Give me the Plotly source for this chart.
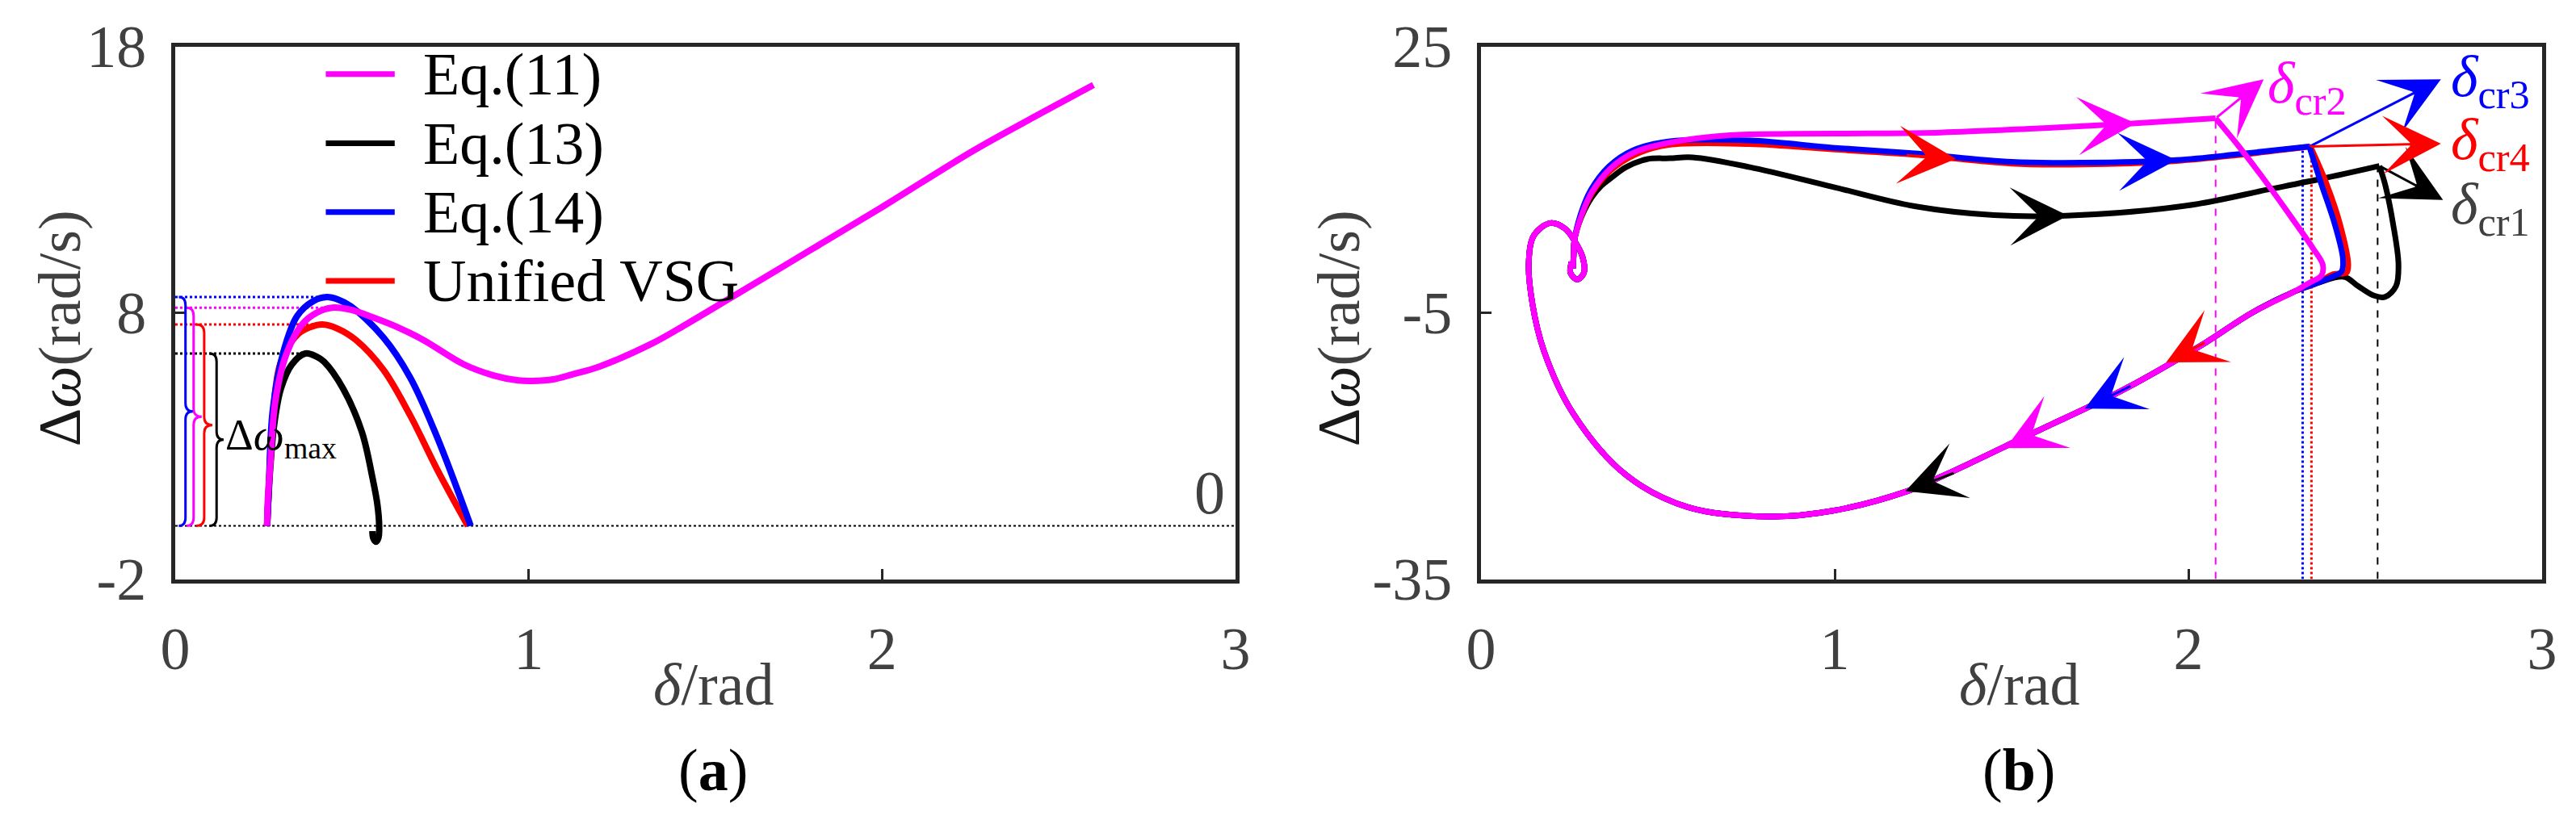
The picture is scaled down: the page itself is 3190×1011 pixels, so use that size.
import plotly.graph_objects as go

# ---------------- data ----------------
series_names = ["Eq.(11)", "Eq.(13)", "Eq.(14)", "Unified VSG"]
series_colors = ["#FF00FF", "#000000", "#0000FF", "#FF0000"]

# panel (a): delta (rad) vs delta-omega (rad/s)
a_eq11_d = [0.26, 0.262, 0.269, 0.284, 0.315, 0.36, 0.40, 0.444, 0.50, 0.558, 0.63, 0.703, 0.817,
            0.90, 0.97, 1.01, 1.07, 1.122, 1.2, 1.35, 1.45, 1.583, 1.793, 2.004, 2.26, 2.458, 2.598]
a_eq11_w = [0.0, 1.0, 2.32, 4.75, 6.47, 7.58, 8.0, 8.19, 8.1, 7.83, 7.45, 6.97, 6.06,
            5.65, 5.46, 5.44, 5.5, 5.68, 5.98, 6.85, 7.6, 8.65, 10.32, 12.0, 14.1, 15.55, 16.55]
a_eq13_d = [0.26, 0.268, 0.28, 0.299, 0.33, 0.368, 0.40, 0.421, 0.475, 0.528, 0.558, 0.572,
            0.577, 0.575, 0.568, 0.560, 0.558]
a_eq13_w = [0.0, 2.0, 3.8, 5.15, 6.06, 6.47, 6.35, 6.16, 5.15, 3.53, 1.81, 0.8,
            0.0, -0.45, -0.6, -0.45, -0.2]
a_eq14_d = [0.26, 0.265, 0.276, 0.307, 0.345, 0.391, 0.429, 0.46, 0.497, 0.589, 0.665, 0.741, 0.836]
a_eq14_w = [0.0, 1.5, 4.34, 6.57, 7.88, 8.44, 8.59, 8.5, 8.24, 7.07, 5.56, 3.33, 0.0]
a_vsg_d = [0.26, 0.265, 0.275, 0.299, 0.345, 0.38, 0.417, 0.46, 0.512, 0.589, 0.665, 0.741, 0.828]
a_vsg_w = [0.0, 1.5, 3.8, 6.16, 7.17, 7.45, 7.56, 7.4, 6.97, 5.86, 4.14, 2.12, 0.0]

# panel (b): outgoing part of each trajectory (up to the return line)
b_eq11_d = [0.26, 0.262, 0.264, 0.283, 0.313, 0.367, 0.435, 0.534, 0.703, 0.878, 1.10, 1.30, 1.54,
            1.851, 2.077, 2.146, 2.224, 2.30, 2.353, 2.38, 2.376, 2.345]
b_eq11_w = [0.0, 1.5, 3.13, 5.85, 8.57, 11.3, 13.1, 14.17, 15.0, 15.15, 15.2, 15.3, 15.7,
            16.34, 16.9, 13.57, 9.48, 5.25, 2.22, 0.41, -0.8, -1.56]
b_eq13_d = [0.26, 0.262, 0.264, 0.283, 0.313, 0.34, 0.365, 0.41, 0.469, 0.534, 0.598, 0.76, 0.993,
            1.226, 1.45, 1.655, 1.995, 2.224, 2.376, 2.54, 2.556, 2.579, 2.594, 2.587, 2.556,
            2.525, 2.48, 2.44, 2.361]
b_eq13_w = [0.0, 1.5, 3.13, 5.7, 8.0, 9.3, 10.1, 11.4, 12.3, 12.4, 12.5, 11.4, 9.2,
            7.0, 6.0, 5.94, 7.06, 8.87, 10.09, 11.54, 9.48, 4.95, 0.41, -2.0, -3.22,
            -3.07, -2.0, -0.95, -1.7]
b_eq14_d = [0.26, 0.262, 0.264, 0.281, 0.31, 0.362, 0.43, 0.53, 0.76, 0.993, 1.226, 1.5, 1.7,
            1.966, 2.15, 2.342, 2.376, 2.414, 2.437, 2.433, 2.406, 2.361]
b_eq14_w = [0.0, 1.5, 3.13, 6.0, 8.8, 11.5, 13.3, 14.3, 14.4, 13.6, 12.95, 12.0, 11.9,
            12.2, 12.9, 13.72, 9.48, 4.95, 1.02, -0.35, -0.95, -1.7]
b_vsg_d = [0.26, 0.262, 0.264, 0.283, 0.313, 0.366, 0.435, 0.53, 0.76, 0.993, 1.226, 1.5, 1.7,
           1.966, 2.15, 2.345, 2.391, 2.429, 2.452, 2.447, 2.41, 2.361]
b_vsg_w = [0.0, 1.5, 3.13, 5.8, 8.4, 11.0, 12.8, 13.9, 14.0, 13.4, 12.8, 11.8, 11.7,
           12.1, 12.8, 13.72, 9.48, 4.95, 0.41, -0.5, -0.65, -1.7]
# shared return path of all four trajectories
b_ret_d = [2.30, 2.178, 2.047, 1.805, 1.563, 1.31, 1.205, 0.995, 0.82, 0.585, 0.411, 0.26, 0.178,
           0.146, 0.135, 0.15, 0.196, 0.237, 0.264, 0.287, 0.291, 0.272, 0.253, 0.256]
b_ret_w = [-2.6, -5.04, -8.4, -13.9, -18.5, -23.3, -25.1, -27.3, -27.96, -26.9, -23.3, -16.3, -9.3,
           -4.13, 0.71, 3.74, 5.1, 4.5, 3.13, 1.3, -0.5, -1.25, -0.5, 0.7]

# critical angles (cr1..cr4) and their corner points
cr_names = ["cr1", "cr2", "cr3", "cr4"]
cr_colors = ["#000000", "#FF00FF", "#0000FF", "#FF0000"]
cr_label_colors = ["#404040", "#FF00FF", "#0000FF", "#FF0000"]
cr_delta = [2.535, 2.077, 2.323, 2.348]
cr_corner_d = [2.54, 2.077, 2.342, 2.342]
cr_corner_w = [11.54, 16.9, 13.72, 13.72]
cr_tip_d = [2.72, 2.213, 2.714, 2.714]
cr_tip_w = [7.7, 21.3, 21.3, 14.05]
cr_label_d = [2.737, 2.219, 2.737, 2.737]
cr_label_w = [6.8, 20.4, 21.1, 14.0]

# direction arrows on the trajectories: (tail_d, tail_w, tip_d, tip_w, colour)
arrows_b = [
    (1.70, 16.05, 1.851, 16.34, "#FF00FF"),
    (1.80, 12.0, 1.966, 12.2, "#0000FF"),
    (1.20, 12.75, 1.343, 12.35, "#FF0000"),
    (1.50, 5.85, 1.66, 5.94, "#000000"),
    (2.05, -8.3, 1.937, -10.6, "#FF0000"),
    (1.84, -13.2, 1.707, -15.8, "#0000FF"),
    (1.60, -17.9, 1.483, -20.25, "#FF00FF"),
    (1.34, -23.0, 1.20, -25.1, "#000000"),
]

x_ticks = [0, 1, 2, 3]
a_y_ticks = [-2, 8, 18]
a_y_text = ["-2", "8", "18"]
b_y_ticks = [-35, -5, 25]
b_y_text = ["-35", "-5", "25"]

# ---------------- figure ----------------
FONT = "Liberation Serif"
GRAY = "#404040"
AX = "#262626"

fig = go.Figure()

a_series = [(a_eq11_d, a_eq11_w), (a_eq13_d, a_eq13_w), (a_eq14_d, a_eq14_w), (a_vsg_d, a_vsg_w)]
b_series = [(b_eq11_d, b_eq11_w), (b_eq13_d, b_eq13_w), (b_eq14_d, b_eq14_w), (b_vsg_d, b_vsg_w)]


def first_peak(w):
    # index of the first local maximum (the swing peak)
    for i in range(1, len(w) - 1):
        if w[i] >= w[i + 1] and w[i] >= w[i - 1]:
            return i
    return w.index(max(w))


peaks = []
for d, w in a_series:
    i = first_peak(w)
    peaks.append((d[i], w[i]))

# peak marker lines + zero line in panel (a)
fig.add_trace(go.Scatter(x=[0, 3], y=[0, 0], mode="lines", xaxis="x", yaxis="y",
                         line=dict(color="black", width=2, dash="dot"), showlegend=False))
for (pd_, pw), c in zip(peaks, series_colors):
    fig.add_trace(go.Scatter(x=[0, pd_], y=[pw, pw], mode="lines", xaxis="x", yaxis="y",
                             line=dict(color=c, width=3, dash="dot"), showlegend=False))

draw_order = [1, 3, 2, 0]  # black, red, blue, magenta on top
for k in draw_order:
    d, w = a_series[k]
    fig.add_trace(go.Scatter(x=d, y=w, mode="lines", xaxis="x", yaxis="y", name=series_names[k],
                             line=dict(color=series_colors[k], width=8, shape="spline", smoothing=1.0),
                             showlegend=False))

# vertical critical-angle lines in panel (b)
for k in range(4):
    fig.add_trace(go.Scatter(x=[cr_delta[k], cr_delta[k]], y=[-35, cr_corner_w[k]], mode="lines",
                             xaxis="x2", yaxis="y2",
                             line=dict(color=cr_colors[k], width=3 if k in (2, 3) else 2,
                                       dash="dot" if k in (2, 3) else "dash"),
                             showlegend=False))

# trajectories: split at the critical corner so it stays sharp
for k in draw_order:
    d, w = b_series[k]
    full_d = d + b_ret_d
    full_w = w + b_ret_w
    c = max((i for i in range(len(d)) if d[i] > 1.9), key=lambda i: w[i])
    for seg in (slice(0, c + 1), slice(c, None)):
        fig.add_trace(go.Scatter(x=full_d[seg], y=full_w[seg], mode="lines", xaxis="x2", yaxis="y2",
                                 name=series_names[k],
                                 line=dict(color=series_colors[k], width=7, shape="spline", smoothing=1.0),
                                 showlegend=False))

annotations = []
shapes = []

# legend (drawn by hand, panel a)
leg_y = [0.948, 0.818, 0.689, 0.56]
for name, c, yy in zip(series_names, series_colors, leg_y):
    shapes.append(dict(type="line", xref="x domain", yref="y domain", x0=0.142, x1=0.207, y0=yy, y1=yy,
                       line=dict(color=c, width=7)))
    annotations.append(dict(xref="x domain", yref="y domain", x=0.232, y=yy, text=name, showarrow=False,
                            xanchor="left", yanchor="middle", font=dict(family=FONT, size=74, color="black")))


# curly braces marking delta-omega max
def brace(xl, xs, xt, top, h=0.3):
    ym = top / 2
    return (f"M{xl},{top} Q{xs},{top} {xs},{top - h} L{xs},{ym + h} Q{xs},{ym} {xt},{ym} "
            f"Q{xs},{ym} {xs},{ym - h} L{xs},{h} Q{xs},0 {xl},0")


brace_x = {0: (0.032, 0.052, 0.075), 1: (0.097, 0.117, 0.137), 2: (0.01, 0.029, 0.05), 3: (0.059, 0.082, 0.105)}
for k, (pd_, pw) in enumerate(peaks):
    xl, xs, xt = brace_x[k]
    shapes.append(dict(type="path", xref="x", yref="y", path=brace(xl, xs, xt, pw),
                       line=dict(color=series_colors[k], width=3)))

annotations.append(dict(xref="x", yref="y", x=0.138, y=3.3, text="Δ<i>ω</i><sub>max</sub>", showarrow=False,
                        xanchor="left", yanchor="middle", font=dict(family=FONT, size=54, color="black")))
annotations.append(dict(xref="x", yref="y", x=2.975, y=1.25, text="0", showarrow=False,
                        xanchor="right", yanchor="middle", font=dict(family=FONT, size=76, color=GRAY)))

# panel (b) direction arrows
for td, tw, hd, hw, c in arrows_b:
    annotations.append(dict(xref="x2", yref="y2", axref="x2", ayref="y2", x=hd, y=hw, ax=td, ay=tw,
                            text="", showarrow=True, arrowhead=3, arrowsize=4, arrowwidth=3,
                            arrowcolor=c, standoff=0))
# critical-angle pointer arrows and labels
for k in range(4):
    annotations.append(dict(xref="x2", yref="y2", axref="x2", ayref="y2", x=cr_tip_d[k], y=cr_tip_w[k],
                            ax=cr_corner_d[k], ay=cr_corner_w[k], text="", showarrow=True,
                            arrowhead=3, arrowsize=4, arrowwidth=3, arrowcolor=cr_colors[k], standoff=0))
    annotations.append(dict(xref="x2", yref="y2", x=cr_label_d[k], y=cr_label_w[k],
                            text=f"<i>δ</i><sub>{cr_names[k]}</sub>", showarrow=False,
                            xanchor="left", yanchor="middle",
                            font=dict(family=FONT, size=72, color=cr_label_colors[k])))

# axis titles and panel labels
ytitle = '<span style="color:#1a1a1a">Δ<i>ω</i></span>(rad/s)'
for xp in (66 / 3190, 1650 / 3190):
    annotations.append(dict(xref="paper", yref="paper", x=xp, y=0.605, text=ytitle, textangle=-90,
                            showarrow=False, xanchor="center", yanchor="middle",
                            font=dict(family=FONT, size=74, color=GRAY)))
for xp, lab in ((875 / 3190, "a"), (2492 / 3190, "b")):
    annotations.append(dict(xref="paper", yref="paper", x=xp, y=0.169, text="<i>δ</i>/rad", showarrow=False,
                            xanchor="center", yanchor="middle", font=dict(family=FONT, size=74, color=GRAY)))
    annotations.append(dict(xref="paper", yref="paper", x=xp, y=0.064, text=f"(<b>{lab}</b>)", showarrow=False,
                            xanchor="center", yanchor="middle", font=dict(family=FONT, size=74, color="black")))

axis_common = dict(showline=True, mirror=True, linecolor=AX, linewidth=5, ticks="inside", ticklen=13,
                   tickwidth=3, tickcolor=AX, showgrid=False, zeroline=False, automargin=False,
                   tickfont=dict(family=FONT, size=74, color=GRAY))
y_dom = [1 - 709.5 / 1011, 1 - 49.5 / 1011]

fig.update_layout(
    width=3190, height=1011,
    margin=dict(l=0, r=0, t=0, b=0, autoexpand=False),
    paper_bgcolor="white", plot_bgcolor="white",
    showlegend=False,
    xaxis=dict(domain=[209 / 3190, 1522 / 3190], range=[0, 3], tickvals=x_ticks, anchor="y",
               ticklabelstandoff=18, **axis_common),
    yaxis=dict(domain=y_dom, range=[-2, 18], tickvals=a_y_ticks, ticktext=a_y_text, anchor="x",
               ticklabelstandoff=16, **axis_common),
    xaxis2=dict(domain=[1826 / 3190, 3140 / 3190], range=[0, 3], tickvals=x_ticks, anchor="y2",
                ticklabelstandoff=18, **axis_common),
    yaxis2=dict(domain=y_dom, range=[-35, 25], tickvals=b_y_ticks, ticktext=b_y_text, anchor="x2",
                ticklabelstandoff=16, **axis_common),
    annotations=annotations,
    shapes=shapes,
)

fig.write_html("out.html")
